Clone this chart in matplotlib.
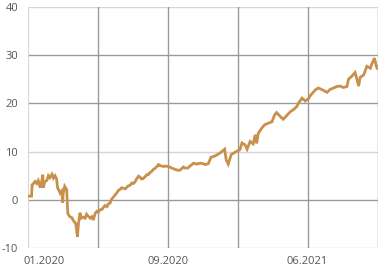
import matplotlib
matplotlib.use("Agg")
import matplotlib.pyplot as plt
import matplotlib.dates as mdates
import pandas as pd
import numpy as np

base_date = "2019-12-01"
day_offsets = [1, 7, 8, 10, 14, 17, 20, 24, 27, 29, 30, 33, 37, 40, 43, 47, 50, 53, 56, 58,
               60, 63, 66, 68, 69, 72, 76, 78, 79, 82, 86, 89, 92, 94, 97, 99, 102, 105, 109, 112,
               115, 118, 122, 125, 128, 132, 135, 138, 141, 145, 148, 151, 155, 158, 161, 164, 168, 171, 174, 177,
               181, 184, 187, 191, 194, 197, 200, 204, 207, 210, 213, 217, 220, 223, 226, 230, 233, 236, 240, 243,
               246, 249, 253, 256, 259, 263, 266, 269, 276, 282, 289, 295, 299, 305, 308, 314, 318, 325, 331, 338,
               344, 348, 354, 359, 367, 377, 386, 389, 393, 399, 407, 416, 420, 426, 430, 436, 442, 446, 449, 452,
               459, 465, 472, 479, 484, 488, 495, 501, 508, 515, 521, 528, 531, 538, 544, 550, 554, 564, 570, 580,
               587, 593, 600, 606, 613, 619, 626, 629, 636, 642, 646, 649, 652, 659, 665, 672, 675, 680, 683, 685]
values = [0.75, 0.75, 3.1, 3.3, 3.8, 3.4, 4.0, 2.5, 3.9, 5.2, 2.5, 3.8, 4.0, 5.0, 4.6, 5.3, 4.5, 5.0, 4.4, 2.5,
          2.1, 1.4, 1.8, -0.6, 1.2, 2.8, 2.1, -2.7, -3.0, -3.5, -3.7, -4.3, -4.7, -5.0, -7.7, -5.0, -2.7, -3.8, -3.6, -3.8,
          -3.0, -3.4, -3.8, -3.5, -4.2, -2.8, -2.4, -2.6, -2.1, -2.0, -1.6, -1.2, -1.4, -0.8, -0.7, 0.1, 0.6, 1.0, 1.4, 1.9,
          2.2, 2.5, 2.4, 2.3, 2.6, 2.9, 3.0, 3.5, 3.4, 3.7, 4.3, 4.9, 4.7, 4.3, 4.4, 4.8, 5.2, 5.2, 5.7, 5.9,
          6.3, 6.5, 6.9, 7.3, 7.1, 7.0, 6.9, 7.0, 6.9, 6.6, 6.3, 6.1, 6.2, 6.8, 6.6, 6.6, 7.0, 7.6, 7.4, 7.6,
          7.5, 7.3, 7.5, 8.8, 9.1, 9.7, 10.5, 8.3, 7.4, 9.4, 9.9, 10.4, 11.8, 11.4, 10.5, 12.1, 11.6, 13.5, 11.7, 13.8,
          14.9, 15.6, 15.9, 16.2, 17.6, 18.1, 17.3, 16.7, 17.5, 18.3, 18.7, 19.4, 20.1, 21.1, 20.5, 20.9, 21.6, 22.8, 23.2, 22.7,
          22.3, 22.9, 23.2, 23.5, 23.6, 23.3, 23.5, 25.0, 25.7, 26.4, 24.9, 23.6, 25.4, 25.9, 27.7, 27.3, 28.2, 29.4, 28.0, 27.3]

x_labels = ["01.2020", "09.2020", "06.2021"]
x_label_dates = ["2020-01-01", "2020-09-01", "2021-06-01"]
y_ticks = [-10, 0, 10, 20, 30, 40]
grid_step_days = 137.4
x_span_days = 687

plt.rcParams['font.family'] = ['Open Sans', 'DejaVu Sans']

fig = plt.figure(figsize=(3.81, 2.75), dpi=100)
ax = fig.add_axes([28/381, 1 - 248/275, 350/381, 241/275])

base = pd.Timestamp(base_date)
dates = base + pd.to_timedelta(day_offsets, unit="D")
ax.plot(dates, values, color="#C8904A", lw=2.0, solid_joinstyle="miter", zorder=3)

x0 = mdates.date2num(base)
ax.set_xlim(x0, x0 + x_span_days)
ax.set_ylim(-10, 40)

dark = "#9a9a9a"
light = "#d6d6d6"
for y in y_ticks:
    c = light if y in (-10, 10, 40) else dark
    ax.axhline(y, color=c, lw=1.0, zorder=1)
k = 1
while k * grid_step_days <= x_span_days + 1:
    ax.axvline(x0 + k * grid_step_days, color=dark, lw=1.0, zorder=1)
    k += 1
ax.axvline(x0, color=light, lw=1.5, zorder=1)

for s in ax.spines.values():
    s.set_visible(False)

ax.set_yticks(y_ticks)
ax.set_yticklabels([str(v) for v in y_ticks])
ax.set_xticks([mdates.date2num(pd.Timestamp(d)) for d in x_label_dates])
ax.set_xticklabels(x_labels)
ax.tick_params(axis="both", length=0, colors="#555555", labelsize=8)
ax.tick_params(axis="y", pad=7)
ax.tick_params(axis="x", pad=6)

fig.savefig("out.png", dpi=100)
